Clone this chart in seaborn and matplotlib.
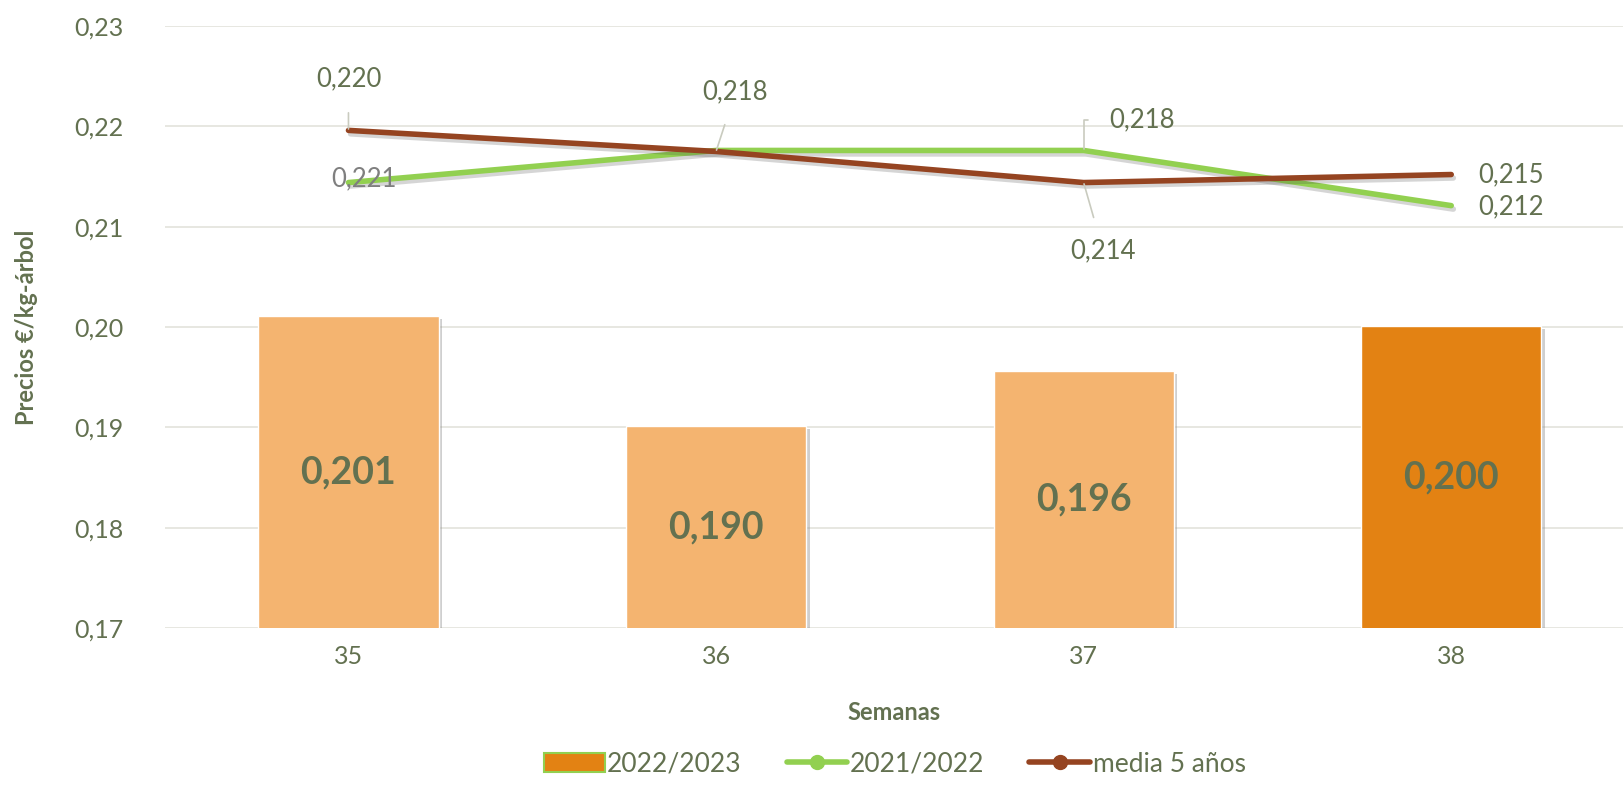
import matplotlib
matplotlib.use("Agg")
import matplotlib.pyplot as plt
import matplotlib.patheffects as pe
from matplotlib.lines import Line2D
from matplotlib.patches import Patch
from matplotlib.ticker import FuncFormatter
import numpy as np
import pandas as pd
import seaborn as sns

# ─── Data ────────────────────────────────────────────────────
weeks = ["35", "36", "37", "38"]
prices_2223 = [0.2011, 0.1901, 0.1956, 0.2001]
prices_2122 = [0.2144, 0.2176, 0.2176, 0.2121]
media_5 = [0.2196, 0.2175, 0.2144, 0.2152]

bar_labels = ["0,201", "0,190", "0,196", "0,200"]
labels_2122 = ["0,221", "", "0,218", "0,212"]
labels_media = ["0,220", "0,218", "0,214", "0,215"]

# ─── Style ───────────────────────────────────────────────────
TEXT = "#637150"
LIGHT_ORANGE = "#F4B470"
ORANGE = "#E38213"
GREEN = "#92D050"
BROWN = "#954421"
LEADER = "#c9cbbf"

sns.set_style("white")
plt.rcParams["font.family"] = ["Lato", "DejaVu Sans"]

fig = plt.figure(figsize=(16.24, 8.06), dpi=100)
ax = fig.add_axes([0.1014, 0.2208, 0.8986, 0.7469])

df = pd.DataFrame({"week": weeks, "price": prices_2223})
bar_colors = [LIGHT_ORANGE] * (len(weeks) - 1) + [ORANGE]
sns.barplot(data=df, x="week", y="price", hue="week", palette=bar_colors,
            saturation=1, legend=False, width=0.49, ax=ax, zorder=2)

bar_shadow = [pe.SimplePatchShadow(offset=(2.5, -2), shadow_rgbFace="#888888", alpha=0.4),
              pe.Normal()]
for p in ax.patches:
    p.set_path_effects(bar_shadow)

ax.set_ylim(0.17, 0.23)
for p, lab in zip(ax.patches, bar_labels):
    xc = p.get_x() + p.get_width() / 2
    yc = (ax.get_ylim()[0] + p.get_height()) / 2
    ax.text(xc, yc, lab, ha="center", va="center", fontsize=27,
            fontweight="bold", color=TEXT, zorder=5)

x = np.arange(len(weeks))
line_shadow = [pe.SimpleLineShadow(offset=(1.5, -2.5), shadow_color="#444444", alpha=0.22),
               pe.Normal()]
sns.lineplot(x=x, y=prices_2122, color=GREEN, lw=4, ax=ax, zorder=3,
             path_effects=line_shadow, solid_capstyle="round")
sns.lineplot(x=x, y=media_5, color=BROWN, lw=4, ax=ax, zorder=4,
             path_effects=line_shadow, solid_capstyle="round")

# data labels on the lines (offsets in points)
def label(i, yv, text, dx, dy, color=TEXT, leader=False, conn="arc3"):
    if not text:
        return
    arrow = None
    if leader:
        arrow = dict(arrowstyle="-", color=LEADER, lw=1.2, shrinkA=13,
                     shrinkB=1, connectionstyle=conn)
    ax.annotate(text, xy=(i, yv), xytext=(dx, dy), textcoords="offset points",
                ha="center", va="center", fontsize=18.5, color=color,
                arrowprops=arrow, zorder=6)

label(0, prices_2122[0], labels_2122[0], 11, 3, color="#7f7f7f")
label(2, prices_2122[2], labels_2122[2], 42, 22, leader=True,
      conn="angle,angleA=0,angleB=90,rad=0")
label(3, prices_2122[3], labels_2122[3], 43, -1)

label(0, media_5[0], labels_media[0], 0, 37, leader=True)
label(1, media_5[1], labels_media[1], 14, 43, leader=True)
label(2, media_5[2], labels_media[2], 14, -49, leader=True)
label(3, media_5[3], labels_media[3], 43, 0)

# ─── Axes ────────────────────────────────────────────────────
ax.set_xlim(-0.5, 3.47)
ax.set_yticks(np.arange(0.17, 0.2301, 0.01))
ax.yaxis.set_major_formatter(FuncFormatter(lambda v, _: f"{v:.2f}".replace(".", ",")))
ax.grid(axis="y", color="#e3e3dc", lw=1.2, zorder=0)
ax.set_axisbelow(True)
sns.despine(ax=ax, left=True, bottom=True, right=True, top=True)
ax.tick_params(axis="both", length=0, labelsize=18, labelcolor=TEXT)
ax.tick_params(axis="y", pad=30)
ax.tick_params(axis="x", pad=12)

ax.set_xlabel("Semanas", fontsize=17, fontweight="bold", color=TEXT, labelpad=24)
ax.set_ylabel("Precios €/kg-árbol", fontsize=17, fontweight="bold", color=TEXT, labelpad=26)

handles = [
    Patch(facecolor=ORANGE, edgecolor=GREEN, lw=1.5),
    Line2D([0], [0], color=GREEN, lw=4, marker="o", markersize=10),
    Line2D([0], [0], color=BROWN, lw=4, marker="o", markersize=10),
]
fig.legend(handles, ["2022/2023", "2021/2022", "media 5 años"],
           loc="center", bbox_to_anchor=(0.551, 0.052), ncol=3, frameon=False,
           fontsize=19, labelcolor=TEXT, handlelength=2.3, handletextpad=0.1,
           columnspacing=1.7)

fig.savefig("out.png", dpi=100)
